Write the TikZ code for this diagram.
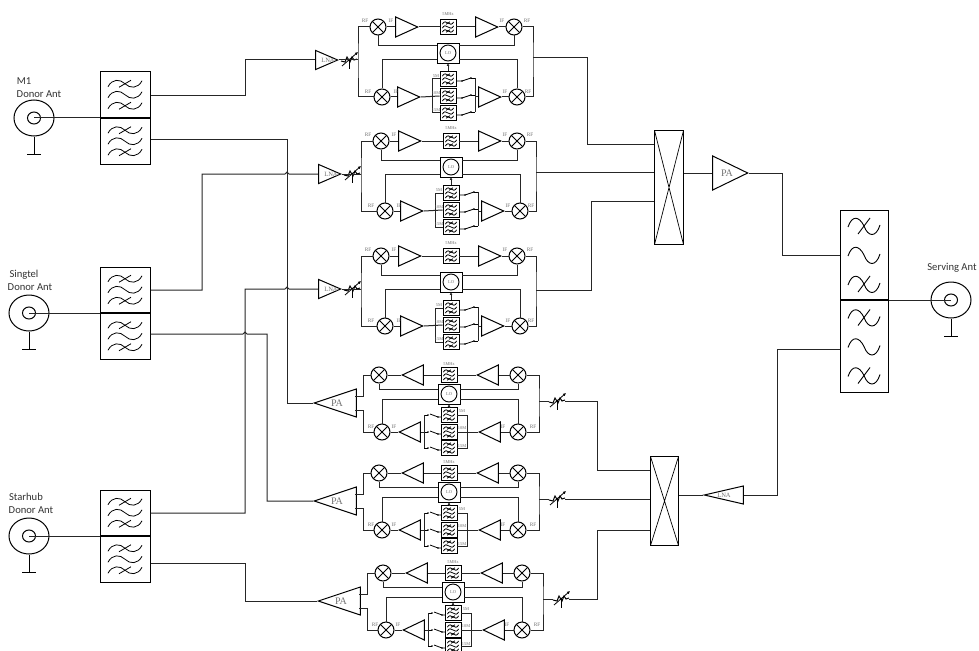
\documentclass[tikz,border=0pt]{standalone}
\usepackage{fontspec}
\setmainfont{Carlito}
\newfontfamily\serifsmall{Liberation Serif}
\usetikzlibrary{shapes.geometric,arrows.meta,calc}
\definecolor{lab}{gray}{0.45}
\tikzset{
 wire/.style={line width=1pt,black!85},
 mixer/.style={circle,draw,line width=1pt,minimum size=16,inner sep=0,
  path picture={\draw[line width=1pt] (path picture bounding box.north west)--(path picture bounding box.south east)
   (path picture bounding box.north east)--(path picture bounding box.south west);}},
 amp/.style={isosceles triangle,isosceles triangle stretches,draw,line width=1pt,inner sep=0,minimum width=#1,anchor=apex},
 ampR/.style={amp=20,minimum height=22,shape border rotate=0},
 ampL/.style={amp=20,minimum height=21,shape border rotate=180},
 fbox/.style={draw,line width=0.9pt,minimum width=16,minimum height=15,inner sep=0},
 lobox/.style={draw,line width=0.9pt,minimum width=22,minimum height=20,inner sep=0},
 locirc/.style={circle,draw,line width=0.9pt,minimum size=16,inner sep=0,font=\serifsmall\fontsize{4.5}{5}\selectfont,text=lab},
 tiny/.style={font=\serifsmall\fontsize{5.3}{6}\selectfont,text=lab,inner sep=0},
 tinier/.style={font=\serifsmall\fontsize{4.4}{5}\selectfont,text=lab,inner sep=0},
 gain/.style={font=\serifsmall\fontsize{#1}{#1}\selectfont,text=lab,inner sep=0},
 caption/.style={font=\fontsize{10.6}{12}\selectfont,text=black!80,inner sep=0},
 duplexbox/.style={draw,line width=1pt,inner sep=0},
 antouter/.style={ellipse,draw,line width=1pt,minimum width=40,minimum height=36,inner sep=0},
 antinner/.style={ellipse,draw,line width=1pt,minimum width=13,minimum height=12,inner sep=0},
 combiner/.style={draw,line width=1pt,inner sep=0,
  path picture={\draw[line width=0.7pt] (path picture bounding box.north west)--(path picture bounding box.south east)
   (path picture bounding box.north east)--(path picture bounding box.south west);}},
 wave/.pic={
  \foreach \dy in {-11,0,11}{
   \draw[line width=0.8pt] (-17,\dy+3) .. controls (-13,\dy-5) and (-5,\dy-5) .. (0,\dy) .. controls (5,\dy+5) and (13,\dy+5) .. (17,\dy-3);}
  \draw[line width=0.8pt] (-6,-7.5) -- (6,-14.5);
  \draw[line width=0.8pt] (-6,14.5) -- (6,7.5);
 },
 wavebig/.pic={
  \foreach \dy in {-29,0,29}{
   \draw[line width=0.9pt] (-16,\dy+1) .. controls (-12,\dy-11) and (-5,\dy-10) .. (0,\dy) .. controls (4,\dy+11) and (12,\dy+12) .. (16,\dy-1);}
  \draw[line width=0.9pt] (-6,-21) -- (6,-37);
  \draw[line width=0.9pt] (-6,37) -- (6,21);
 },
 attn/.pic={
  \draw[line width=1pt] (-8,1) -- (-4,2) -- (-2,-3) -- (1,2) -- (3,-3) -- (5,0) -- (8,-1);
  \draw[line width=0.8pt,-{Latex[length=3pt,width=3pt]}] (-7,6) -- (9,-8);
  \draw[line width=0.8pt] (0,0) -- (0,9);
 }
}
% small filter with its glyph
\newcommand{\sfilt}[2]{\node[fbox] (#1) at (#2) {};\pic[xscale=.33,yscale=.36] at (#1) {wave};}
% downlink block: name, LO x, LO y
\newcommand{\dlblock}[3]{
\begin{scope}[shift={(#2,#3)}]
 \node[lobox] (#1lo) at (0,0) {};
 \node[locirc] (#1loc) at (0,0) {LO};
 \node[mixer] (#1mtl) at (-70,-26) {};
 \node[mixer] (#1mtr) at (66,-26) {};
 \node[mixer] (#1mbl) at (-66,44) {};
 \node[mixer] (#1mbr) at (69,44) {};
 \node[ampR] (#1a1) at (-29,-26) {};
 \node[ampR] (#1a2) at (51,-26) {};
 \node[ampR] (#1a3) at (-27,44) {};
 \node[ampR] (#1a4) at (54,44) {};
 \sfilt{#1f0}{0,-26}
 \sfilt{#1f1}{0,26}
 \sfilt{#1f2}{0,43}
 \sfilt{#1f3}{0,60}
 \node[amp=19,minimum height=22,shape border rotate=0] (#1lna) at (-109,7) {};
 \node[gain=6.5] (#1lnat) at (-120,7) {LNA};
 \pic at (-99,7) {attn};
 \coordinate (#1bl) at (-90,7);
 \coordinate (#1br) at (85,5);
 \coordinate (#1in) at (#1lna.lower side);
 \coordinate (#1out) at (85,5);
 \draw[wire] (#1lna.apex) -- (#1bl);
 \draw[wire] (#1mtl) -| (#1bl) |- (#1mbl);
 \draw[wire] (#1mtr) -| (#1br) |- (#1mbr);
 \draw[wire] (#1mtl.east) -- (#1a1.lower side);
 \draw[wire] (#1a1.apex) -- (#1f0);
 \draw[wire] (#1f0) -- (#1a2.lower side);
 \draw[wire] (#1a2.apex) -- (#1mtr.west);
 \draw[wire] (#1mbl.east) -- (#1a3.lower side);
 \draw[wire] (#1a3.apex) -- (#1f2.west);
 \draw[wire] (#1a4.apex) -- (#1mbr.west);
 \draw[wire] (#1mtl.south) |- (-11,-7);
 \draw[wire] (#1mtr.south) |- (11,-7);
 \draw[wire] (#1mbl.north) |- (-11,7);
 \draw[wire] (#1mbr.north) |- (11,7);
 \draw[wire,-{Latex[length=2.5pt,width=3pt]}] (#1f1.north) -- (#1lo.south);
 % left common bus of the filter bank
 \draw[wire] (#1f1.west) -- (-16,26) -- (-16,60) -- (#1f3.west);
 % switches and right bus
 \foreach \sy in {26,43,60}{
  \draw[line width=.8pt] (8,\sy+2) -- (14,\sy+2) -- (23,\sy-1);
  \fill (14,\sy+2) circle (.8);
  \fill (23,\sy-1) circle (.8);
  \draw[line width=.8pt] (23,\sy-1) -- (27,\sy-1);
 }
 \draw[wire] (27,25) -- (27,59);
 \draw[wire] (27,44) -- (#1a4.lower side);
 \node[tiny] at (-83,-32) {RF};
 \node[tiny] at (-57,-32) {IF};
 \node[tiny] at (54,-32) {IF};
 \node[tiny] at (79,-32) {RF};
 \node[tinier] at (0,-39) {5MHz};
 \node[tiny] at (-80,39) {RF};
 \node[tiny] at (-52,39) {IF};
 \node[tiny] at (57,39) {IF};
 \node[tiny] at (80,39) {RF};
 \node[tinier] at (-12,23) {5M};
 \node[tinier] at (-12,40) {10M};
 \node[tinier] at (-12,57) {15M};
\end{scope}}
% uplink block: name, LO x, LO y
\newcommand{\ulblock}[3]{
\begin{scope}[shift={(#2,#3)}]
 \node[lobox] (#1lo) at (0,0) {};
 \node[locirc] (#1loc) at (0,0) {LO};
 \node[mixer] (#1mtl) at (-70,-19) {};
 \node[mixer] (#1mtr) at (69,-19) {};
 \node[mixer] (#1mbl) at (-67,38) {};
 \node[mixer] (#1mbr) at (69,38) {};
 \node[ampL] (#1a1) at (-48,-19) {};
 \node[ampL] (#1a2) at (27,-19) {};
 \node[ampL] (#1a3) at (-51,38) {};
 \node[ampL] (#1a4) at (29,38) {};
 \sfilt{#1f0}{0,-19}
 \sfilt{#1f1}{0,21}
 \sfilt{#1f2}{0,38}
 \sfilt{#1f3}{0,54}
 \node[amp=28,minimum height=42,shape border rotate=180] (#1pa) at (-136,9) {};
 \node[gain=10] (#1pat) at (-112,9) {PA};
 \pic at (108,7) {attn};
 \coordinate (#1bl) at (-86,9);
 \coordinate (#1br) at (90,7);
 \coordinate (#1out) at (116,7);
 \coordinate (#1in) at (#1pa.apex);
 \coordinate (#1p1) at (-94,2);
 \coordinate (#1p2) at (-94,16);
 \draw[wire] (#1p1) -- (-86,2) |- (#1mtl);
 \draw[wire] (#1p2) -- (-86,16) |- (#1mbl);
 \draw[wire] (#1mtr) -| (#1br) |- (#1mbr);
 \draw[wire] (#1br) -- (100,7);
 \draw[wire] (#1mtl.east) -- (#1a1.apex);
 \draw[wire] (#1a1.lower side) -- (#1f0);
 \draw[wire] (#1f0) -- (#1a2.apex);
 \draw[wire] (#1a2.lower side) -- (#1mtr.west);
 \draw[wire] (#1mbl.east) -- (#1a3.apex);
 \draw[wire] (#1a3.lower side) -- (-25,38);
 \draw[wire] (#1a4.lower side) -- (#1mbr.west);
 \draw[wire] (#1a4.apex) -- (#1f2.east);
 \draw[wire] (#1mtl.south) |- (-11,-5);
 \draw[wire] (#1mtr.south) |- (11,-5);
 \draw[wire] (#1mbl.north) |- (-11,5);
 \draw[wire] (#1mbr.north) |- (11,5);
 \draw[wire,-{Latex[length=2.5pt,width=3pt]}] (#1f1.north) -- (#1lo.south);
 % right common bus of the filter bank
 \draw[wire] (#1f1.east) -- (18,21) -- (18,54) -- (#1f3.east);
 % switches and left bus
 \foreach \sy in {21,38,54}{
  \draw[line width=.8pt] (-8,\sy+2) -- (-11,\sy+2) -- (-19,\sy-1);
  \fill (-11,\sy+2) circle (.8);
  \fill (-21,\sy) circle (.8);
  \draw[line width=.8pt] (-21,\sy) -- (-25,\sy);
 }
 \draw[wire] (-25,21) -- (-25,54);
 \node[tiny] at (-78,33) {RF};
 \node[tiny] at (-55,33) {IF};
 \node[tiny] at (54,33) {IF};
 \node[tiny] at (84,33) {RF};
 \node[tinier] at (0,-30) {5MHz};
 \node[tinier] at (13,17) {5M};
 \node[tinier] at (13,34) {10M};
 \node[tinier] at (13,52) {15M};
\end{scope}}
% antenna
\newcommand{\ant}[3]{
 \node[antouter] (#1) at (#2,#3) {};
 \node[antinner] (#1i) at (#2,#3) {};
 \coordinate (#1f) at (#2,#3+36);
 \draw[line width=1pt] (#1.south) -- (#1f);
 \draw[line width=1pt] ($(#1f)+(-7,0)$) -- ($(#1f)+(7,0)$);
}
% left duplexer
\newcommand{\dup}[3]{
 \node[duplexbox,minimum width=50,minimum height=45.5,anchor=south] (#1u) at (#2,#3) {};
 \node[duplexbox,minimum width=50,minimum height=45.5,anchor=north] (#1d) at (#2,#3) {};
 \pic at (#1u) {wave};
 \pic at (#1d) {wave};
}
\begin{document}
\begin{tikzpicture}[x=1pt,y=-1pt]
\useasboundingbox (0,0) rectangle (979,650);
\clip (0,0) rectangle (979,650);
\fill[white] (0,0) rectangle (979,650);

\dlblock{A}{448}{53}
\dlblock{B}{451}{167}
\dlblock{C}{451}{282}
\ulblock{D}{449}{394}
\ulblock{E}{449}{492}
\ulblock{F}{453}{592}

\dup{m}{125}{118}
\dup{s}{125}{313}
\dup{h}{125}{536}

\ant{am}{34}{118}
\ant{as}{29}{313}
\ant{ah}{29}{536}
\node[caption] (t1) at (24,81) {M1};
\node[caption] (t2) at (39,94) {Donor Ant};
\node[caption] (t3) at (24,275) {Singtel};
\node[caption] (t4) at (30,287) {Donor Ant};
\node[caption] (t5) at (26,497) {Starhub};
\node[caption] (t6) at (31,510) {Donor Ant};
\node[caption] (t7) at (952,268) {Serving Ant};

\draw[wire] (ami.center) -- (mu.south west);
\draw[wire] (asi.center) -- (su.south west);
\draw[wire] (ahi.center) -- (hu.south west);

% right duplexer
\node[duplexbox,minimum width=48,minimum height=89,anchor=south] (ru) at (864,300) {};
\node[duplexbox,minimum width=48,minimum height=92,anchor=north] (rd) at (864,300) {};
\pic at (ru) {wavebig};
\pic at (rd) {wavebig};
\ant{ar}{951}{300}
\draw[wire] (ari.center) -- (ru.south east);

% combiners
\node[combiner,minimum width=29,minimum height=114,anchor=north west] (c1) at (654,130) {};
\node[combiner,minimum width=28,minimum height=89,anchor=north west] (c2) at (650,456) {};
\node[amp=34,minimum height=35,shape border rotate=0] (pa) at (749,173) {};
\node[gain=10] (pat) at (727,173) {PA};
\node[amp=18,minimum height=39,shape border rotate=180] (lna) at (703,495) {};
\node[gain=6.5] (lnat) at (724,495) {LNA};

\draw[wire] (c1.east |- pa.lower side) -- (pa.lower side);
\draw[wire] (pa.apex) -- (782,173) |- (ru.west);
\draw[wire] (rd.west |- 0,349) -| (777,349) |- (lna.lower side);
\draw[wire] (lna.apex) -- (c2.east |- lna.apex);

% donor feeds
\draw[wire] (mu.east |- 0,96) -| (245,60) -- (Ain);
\draw[wire] (mu.east |- 0,139) -| (287,403) -- (Din);
\draw[wire] (su.east |- 0,290) -| (202,174) -- (285,174) .. controls (285.5,171.5) and (288.5,171.5) .. (289,174) -- (Bin);
\draw[wire] (sd.east |- 0,334) -- (243,334) .. controls (243.5,331.5) and (246.5,331.5) .. (247,334) -- (267,334) |- (Ein);
\draw[wire] (hu.east |- 0,513) -| (245,289) -- (285,289) .. controls (285.5,286.5) and (288.5,286.5) .. (289,289) -- (Cin);
\draw[wire] (hd.east |- 0,563) -| (245,601) -- (Fin);

% combiner feeds
\draw[wire] (Aout) -| (587,144) -- (c1.west |- 0,144);
\draw[wire] (Bout) -- (c1.west |- Bout);
\draw[wire] (Cbr |- 0,290) -| (591,201) -- (c1.west |- 0,201);
\draw[wire] (Dout) -- (597,401) |- (c2.west |- 0,470);
\draw[wire] (Eout) -- (c2.west |- Eout);
\draw[wire] (Fout) -- (597,599) |- (c2.west |- 0,530);
\end{tikzpicture}
\end{document}
